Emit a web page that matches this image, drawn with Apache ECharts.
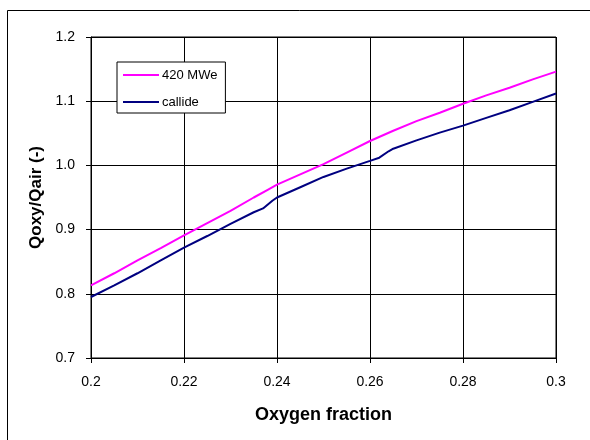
<!DOCTYPE html>
<html>
<head>
<meta charset="utf-8">
<script src="https://cdn.jsdelivr.net/npm/echarts@6/dist/echarts.min.js"></script>
<style>
	html, body { margin: 0; padding: 0; background: #fff; }
	#chart { width: 590px; height: 440px; }
</style>
</head>
<body>
<div id="chart"></div>
<script>
// values
var mweX = [0.200, 0.205, 0.210, 0.215, 0.220, 0.225, 0.230, 0.235, 0.238, 0.240, 0.245, 0.250, 0.255, 0.260, 0.265, 0.270, 0.275, 0.280, 0.285, 0.290, 0.295, 0.300];
var mweY = [0.813, 0.832, 0.852, 0.871, 0.891, 0.910, 0.929, 0.950, 0.962, 0.970, 0.986, 1.002, 1.020, 1.038, 1.054, 1.069, 1.082, 1.096, 1.109, 1.121, 1.134, 1.146];
var callideX = [0.200, 0.205, 0.210, 0.215, 0.220, 0.225, 0.230, 0.235, 0.237, 0.239, 0.240, 0.245, 0.250, 0.255, 0.260, 0.262, 0.264, 0.265, 0.270, 0.275, 0.280, 0.285, 0.290, 0.295, 0.300];
var callideY = [0.795, 0.813, 0.832, 0.852, 0.872, 0.890, 0.909, 0.927, 0.933, 0.945, 0.950, 0.966, 0.982, 0.995, 1.007, 1.012, 1.022, 1.026, 1.039, 1.051, 1.062, 1.074, 1.086, 1.099, 1.112];
var seriesNames = ['420 MWe', 'callide'];
var xTicks = ['0.2', '0.22', '0.24', '0.26', '0.28', '0.3'];
var yTicks = ['0.7', '0.8', '0.9', '1.0', '1.1', '1.2'];

function pairs(xs, ys) {
	var out = [];
	for (var i = 0; i < xs.length; i++) out.push([xs[i], ys[i]]);
	return out;
}

var font = "'Liberation Sans', Arial, sans-serif";
var myChart = echarts.init(document.getElementById('chart'));

option = {
	animation: false,
	backgroundColor: '#fff',
	color: ['#ff00ff', '#000080'],
	grid: {
		left: 91,
		right: 34,
		top: 37,
		bottom: 82,
		show: true,
		borderColor: '#000',
		borderWidth: 1
	},
	graphic: [{
		type: 'rect',
		shape: { x: 7.5, y: 10.5, width: 600, height: 450 },
		style: { fill: 'none', stroke: '#000', lineWidth: 1 },
		silent: true
	}],
	legend: {
		data: seriesNames,
		orient: 'vertical',
		left: 117,
		top: 62,
		itemWidth: 36,
		itemHeight: 2,
		itemGap: 13,
		padding: [6, 8, 4, 6],
		borderColor: '#000',
		borderWidth: 1,
		backgroundColor: '#fff',
		icon: 'rect',
		textStyle: { fontFamily: font, fontSize: 13, lineHeight: 14, color: '#000', padding: [0, 0, 0, -2] }
	},
	xAxis: {
		type: 'value',
		min: 0.2,
		max: 0.3,
		interval: 0.02,
		name: 'Oxygen fraction',
		nameLocation: 'middle',
		nameGap: 48,
		nameTextStyle: { fontFamily: font, fontSize: 18, fontWeight: 'bold', color: '#000' },
		axisLine: { lineStyle: { color: '#000' } },
		axisTick: { show: true, length: 5, inside: false, lineStyle: { color: '#000' } },
		axisLabel: {
			fontFamily: font, fontSize: 14, color: '#000', margin: 17,
			formatter: function (v) { return xTicks[Math.round((v - 0.2) / 0.02)]; }
		},
		splitLine: { show: true, lineStyle: { color: '#000', width: 1 } }
	},
	yAxis: {
		type: 'value',
		min: 0.7,
		max: 1.2,
		interval: 0.1,
		name: 'Qoxy/Qair (-)',
		nameLocation: 'middle',
		nameGap: 43,
		nameTextStyle: { fontFamily: font, fontSize: 17, fontWeight: 'bold', color: '#000' },
		axisLine: { show: true, lineStyle: { color: '#000' } },
		axisTick: { show: true, length: 5, lineStyle: { color: '#000' } },
		axisLabel: {
			fontFamily: font, fontSize: 14, color: '#000', margin: 16,
			formatter: function (v) { return yTicks[Math.round((v - 0.7) / 0.1)]; }
		},
		splitLine: { show: true, lineStyle: { color: '#000', width: 1 } }
	},
	series: [{
		name: seriesNames[0],
		type: 'line',
		data: pairs(mweX, mweY),
		showSymbol: false,
		lineStyle: { width: 2, color: '#ff00ff' }
	}, {
		name: seriesNames[1],
		type: 'line',
		data: pairs(callideX, callideY),
		showSymbol: false,
		lineStyle: { width: 2, color: '#000080' }
	}]
};
myChart.setOption(option);
</script>
</body>
</html>
